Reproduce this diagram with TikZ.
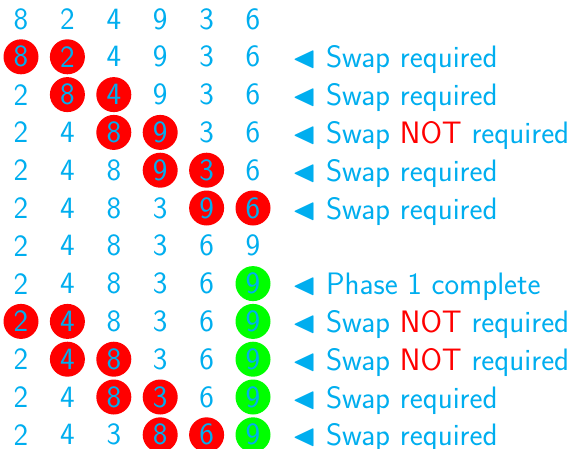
\documentclass[tikz,border=0pt]{standalone}
\usepackage{amssymb}
\definecolor{txtcyan}{RGB}{0,174,239}
\definecolor{ballred}{RGB}{255,0,0}
\definecolor{ballgreen}{RGB}{0,255,0}
\tikzset{
  big/.style={font=\sffamily\fontsize{31}{37}\selectfont, text=txtcyan, inner sep=0pt},
  celln/.style={big, anchor=center},
  cellr/.style={big, anchor=center, circle, fill=ballred, minimum size=35pt},
  cellg/.style={big, anchor=center, circle, fill=ballgreen, minimum size=35pt},
  lab/.style={big, anchor=base west},
}
\newcommand{\notw}{\textcolor{ballred}{NOT}}
\begin{document}
\begin{tikzpicture}[x=1pt,y=-1pt]
\useasboundingbox (0,0) rectangle (572,448);
\foreach \i/\cells in {
 0/{8/n,2/n,4/n,9/n,3/n,6/n},
 1/{8/r,2/r,4/n,9/n,3/n,6/n},
 2/{2/n,8/r,4/r,9/n,3/n,6/n},
 3/{2/n,4/n,8/r,9/r,3/n,6/n},
 4/{2/n,4/n,8/n,9/r,3/r,6/n},
 5/{2/n,4/n,8/n,3/n,9/r,6/r},
 6/{2/n,4/n,8/n,3/n,6/n,9/n},
 7/{2/n,4/n,8/n,3/n,6/n,9/g},
 8/{2/r,4/r,8/n,3/n,6/n,9/g},
 9/{2/n,4/r,8/r,3/n,6/n,9/g},
 10/{2/n,4/n,8/r,3/r,6/n,9/g},
 11/{2/n,4/n,3/n,8/r,6/r,9/g}} {
  \foreach \d/\c [count=\j from 0] in \cells {
    \node[cell\c] (n\i-\j) at ({21+46.4*\j},{19+37.8*\i}) {\d};
  }
}
\foreach \i/\t in {
 1/{Swap required},
 2/{Swap required},
 3/{Swap \notw{} required},
 4/{Swap required},
 5/{Swap required},
 7/{Phase 1 complete},
 8/{Swap \notw{} required},
 9/{Swap \notw{} required},
 10/{Swap required},
 11/{Swap required}} {
  \node[lab] (l\i) at (292,{30+37.8*\i}) {$\blacktriangleleft$ \t};
}
\end{tikzpicture}
\end{document}
